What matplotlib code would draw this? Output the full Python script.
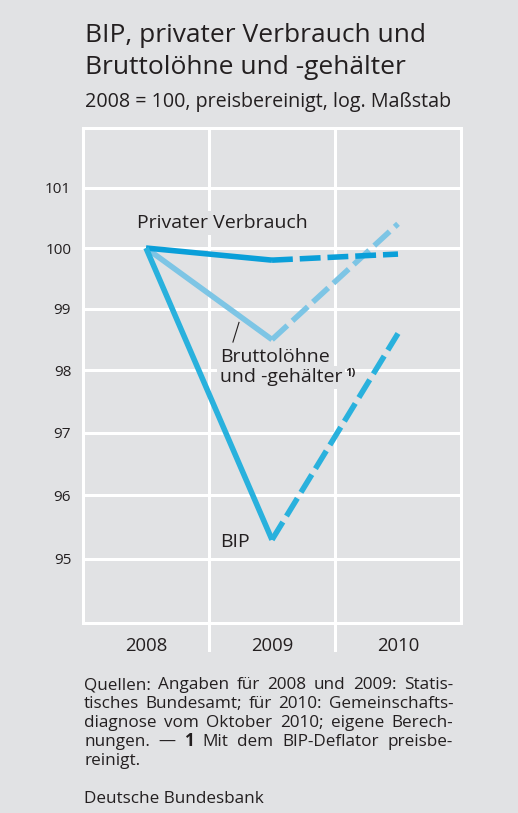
import matplotlib
matplotlib.use("Agg")
import matplotlib.pyplot as plt
import matplotlib.transforms as mtransforms

plt.rcParams['font.family'] = ['Open Sans', 'DejaVu Sans']

# --- data ---------------------------------------------------------------
years = ["2008", "2009", "2010"]
verbrauch = [100.0, 99.8, 99.9]
loehne = [100.0, 98.5, 100.4]
bip = [100.0, 95.3, 98.6]
y_ticks = [95, 96, 97, 98, 99, 100, 101]

subtitle = "2008 = 100, preisbereinigt, log. Maßstab"
footnote_lines = [
    [("Quellen:", "normal"), ("Angaben", "normal"), ("für", "normal"), ("2008", "normal"),
     ("und", "normal"), ("2009:", "normal"), ("Statis-", "normal")],
    [("tisches", "normal"), ("Bundesamt;", "normal"), ("für", "normal"), ("2010:", "normal"),
     ("Gemeinschafts-", "normal")],
    [("diagnose", "normal"), ("vom", "normal"), ("Oktober", "normal"), ("2010;", "normal"),
     ("eigene", "normal"), ("Berech-", "normal")],
    [("nungen.", "normal"), ("—", "normal"), ("1", "bold"), ("Mit", "normal"), ("dem", "normal"),
     ("BIP-Deflator", "normal"), ("preisbe-", "normal")],
    [("reinigt.", "normal")],
]
source = "Deutsche Bundesbank"

# --- style ----------------------------------------------------------------
bg = "#e1e2e4"
c_verbrauch = "#0a9fd9"
c_bip = "#29b1dd"
c_loehne = "#7dc5e5"
txt = "#231f20"

W, H = 518, 813
fig = plt.figure(figsize=(W / 100, H / 100), dpi=100, facecolor=bg)
ax = fig.add_axes([83 / W, 1 - 623 / H, (461 - 83) / W, (623 - 128) / H])
ax.set_facecolor(bg)
ax.set_yscale("log")
ax.set_ylim(94, 102)
ax.set_xlim(-0.5, 2.5)

for s in ax.spines.values():
    s.set_color("white")
    s.set_linewidth(2.2)

ax.set_yticks(y_ticks)
ax.set_yticklabels([str(t) for t in y_ticks])
ax.yaxis.set_minor_locator(matplotlib.ticker.NullLocator())
ax.tick_params(axis="y", length=0, pad=8.5, labelsize=11, labelcolor=txt)
ax.set_xticks(range(len(years)))
ax.set_xticklabels(years)
ax.tick_params(axis="x", length=0, pad=10, labelsize=13.3, labelcolor=txt)

for t in y_ticks:
    ax.axhline(t, color="white", lw=2.2, zorder=1)
trans = mtransforms.blended_transform_factory(ax.transData, ax.transAxes)
for xb in [0.5, 1.5]:
    ax.plot([xb, xb], [-0.055, 1], color="white", lw=2.2, transform=trans,
            clip_on=False, zorder=1)

x = list(range(len(years)))
for vals, col in [(loehne, c_loehne), (verbrauch, c_verbrauch), (bip, c_bip)]:
    ax.plot(x[:2], vals[:2], color=col, lw=4, solid_capstyle="butt", zorder=4)
    ax.plot(x[1:], vals[1:], color=col, lw=4, dashes=(3.75, 1.25),
            dash_capstyle="butt", zorder=4)

# --- labels in the plot ---------------------------------------------------
box = dict(facecolor=bg, edgecolor="none", pad=2)
lab = dict(fontsize=14, color=txt, ha="left", va="center", bbox=box, zorder=3)
ax.text(-0.07, 100.41, "Privater Verbrauch", **lab)
ax.text(0.587, 98.22, "Bruttolöhne", **lab)
und = ax.text(0.587, 97.89, "und -gehälter", **lab)
ax.plot([0.738, 0.69], [98.78, 98.46], color=txt, lw=0.8, zorder=3)
ax.text(0.587, 95.26, "BIP", **lab)

renderer = fig.canvas.get_renderer()
bb = und.get_window_extent(renderer)
sx, sy = ax.transData.inverted().transform((bb.x1 + 3, H - 373))
ax.text(sx, sy, "1)", fontsize=8, fontweight="bold", color=txt,
        ha="left", va="center", zorder=3)

# --- titles ---------------------------------------------------------------
fig.text(85 / W, 1 - 42 / H, "BIP, privater Verbrauch und", fontsize=19,
         color=txt, ha="left", va="baseline")
fig.text(85 / W, 1 - 74 / H, "Bruttolöhne und -gehälter", fontsize=19,
         color=txt, ha="left", va="baseline")
fig.text(85 / W, 1 - 107 / H, subtitle, fontsize=14.2, color=txt,
         ha="left", va="baseline")

# --- justified footnote -------------------------------------------------
left, right = 84, 453
base = 689
for i, line in enumerate(footnote_lines):
    y = 1 - (base + i * 19) / H
    items = [fig.text(0, y, w, fontsize=12.3, fontweight=fw, color=txt,
                      ha="left", va="baseline") for w, fw in line]
    widths = [t.get_window_extent(renderer).width for t in items]
    last = i == len(footnote_lines) - 1
    gap = (right - left - sum(widths)) / (len(items) - 1) if not last and len(items) > 1 else 4
    xpos = left
    for t, w in zip(items, widths):
        t.set_x(xpos / W)
        xpos += w + gap
fig.text(left / W, 1 - 803 / H, source, fontsize=12.3, color=txt,
         ha="left", va="baseline")

fig.savefig("out.png", dpi=100, facecolor=bg)
